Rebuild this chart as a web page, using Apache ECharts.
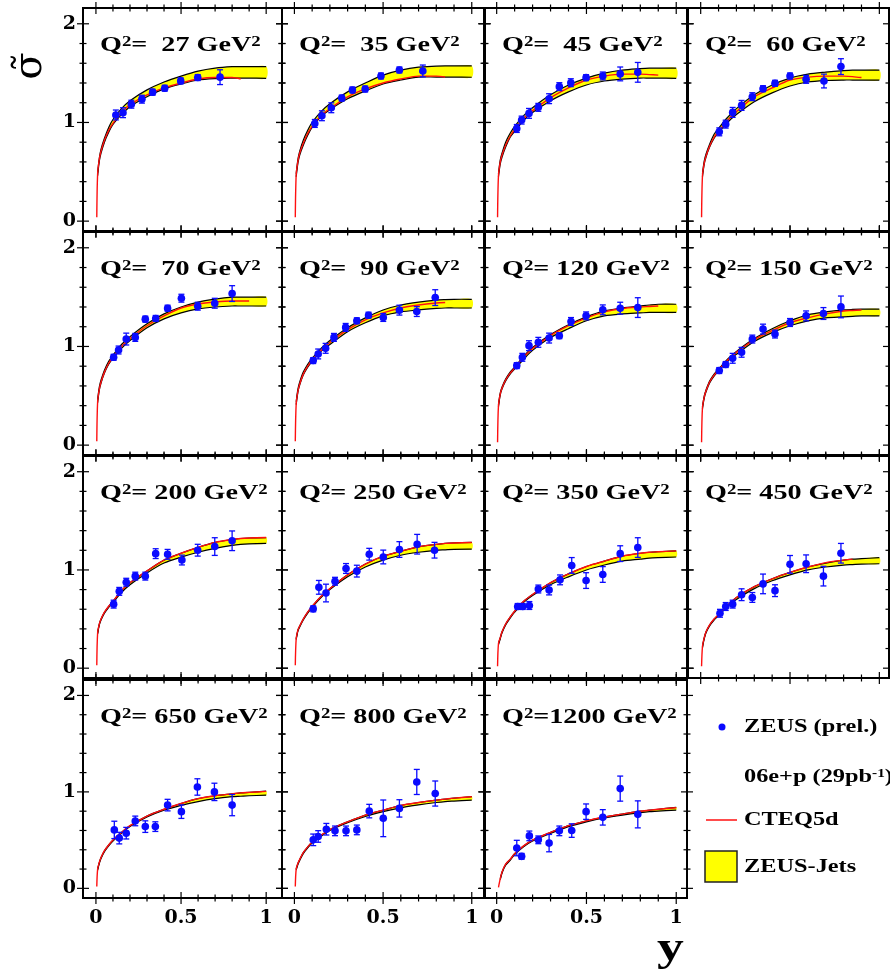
<!DOCTYPE html>
<html>
<head>
<meta charset="utf-8">
<script src="https://cdn.jsdelivr.net/npm/echarts@6/dist/echarts.min.js"></script>
<style>
  html, body { margin: 0; padding: 0; background: #fff; }
  #chart { width: 890px; height: 970px; }
</style>
</head>
<body>
<div id="chart"></div>
<script>
// ---- Values ----------------------------------------------------------
const panelQ2 = [27, 35, 45, 60, 70, 90, 120, 150, 200, 250, 350, 450, 650, 800, 1200];

// y positions at which the model curves are tabulated
const curveY = [0.005, 0.01, 0.02, 0.03, 0.05, 0.075, 0.1, 0.15, 0.2, 0.3, 0.4, 0.5, 0.6, 0.7, 0.8, 0.85, 0.9, 1.0];

// measured points: y, reduced cross section, total error
const pointY = [
  [0.117, 0.159, 0.208, 0.270, 0.333, 0.404, 0.498, 0.598, 0.729],
  [0.115, 0.155, 0.208, 0.267, 0.327, 0.399, 0.488, 0.592, 0.724],
  [0.112, 0.139, 0.180, 0.232, 0.292, 0.349, 0.413, 0.498, 0.591, 0.688, 0.786],
  [0.104, 0.140, 0.179, 0.229, 0.289, 0.349, 0.416, 0.500, 0.590, 0.690, 0.785],
  [0.104, 0.133, 0.178, 0.231, 0.290, 0.351, 0.421, 0.502, 0.598, 0.698, 0.800],
  [0.106, 0.134, 0.176, 0.223, 0.289, 0.352, 0.418, 0.501, 0.592, 0.690, 0.794],
  [0.112, 0.143, 0.180, 0.232, 0.292, 0.349, 0.414, 0.498, 0.591, 0.688, 0.786],
  [0.104, 0.140, 0.179, 0.229, 0.289, 0.349, 0.416, 0.500, 0.590, 0.687, 0.785],
  [0.104, 0.137, 0.178, 0.231, 0.290, 0.351, 0.421, 0.505, 0.598, 0.698, 0.800],
  [0.106, 0.138, 0.178, 0.229, 0.291, 0.352, 0.422, 0.501, 0.592, 0.692, 0.790],
  [0.117, 0.145, 0.182, 0.232, 0.292, 0.353, 0.418, 0.498, 0.591, 0.688, 0.786],
  [0.108, 0.140, 0.179, 0.229, 0.289, 0.349, 0.416, 0.500, 0.590, 0.687, 0.785],
  [0.108, 0.137, 0.178, 0.231, 0.290, 0.349, 0.421, 0.502, 0.596, 0.696, 0.800],
  [0.106, 0.134, 0.180, 0.229, 0.291, 0.352, 0.422, 0.501, 0.592, 0.690, 0.794],
  [0.112, 0.139, 0.182, 0.232, 0.292, 0.349, 0.418, 0.498, 0.591, 0.688, 0.786]
];
const pointSigma = [
  [1.076, 1.099, 1.185, 1.236, 1.307, 1.347, 1.421, 1.455, 1.459],
  [0.990, 1.068, 1.149, 1.247, 1.329, 1.339, 1.471, 1.532, 1.522],
  [0.939, 1.024, 1.092, 1.153, 1.241, 1.363, 1.403, 1.454, 1.471, 1.492, 1.508],
  [0.905, 0.983, 1.102, 1.173, 1.261, 1.342, 1.397, 1.471, 1.437, 1.420, 1.566],
  [0.890, 0.964, 1.075, 1.092, 1.277, 1.284, 1.388, 1.489, 1.408, 1.438, 1.536],
  [0.857, 0.924, 0.981, 1.092, 1.193, 1.260, 1.317, 1.294, 1.368, 1.354, 1.495],
  [0.806, 0.890, 1.008, 1.042, 1.085, 1.109, 1.253, 1.310, 1.371, 1.388, 1.394],
  [0.756, 0.817, 0.880, 0.941, 1.075, 1.176, 1.126, 1.243, 1.310, 1.334, 1.401],
  [0.652, 0.782, 0.875, 0.937, 0.937, 1.166, 1.159, 1.101, 1.201, 1.238, 1.297],
  [0.604, 0.823, 0.765, 0.885, 1.015, 0.988, 1.160, 1.132, 1.208, 1.262, 1.201],
  [0.628, 0.628, 0.638, 0.806, 0.796, 0.899, 1.046, 0.892, 0.954, 1.166, 1.228],
  [0.559, 0.628, 0.652, 0.748, 0.720, 0.858, 0.789, 1.057, 1.063, 0.937, 1.170],
  [0.606, 0.521, 0.572, 0.699, 0.640, 0.640, 0.863, 0.795, 1.051, 1.000, 0.863],
  [0.503, 0.538, 0.613, 0.596, 0.596, 0.606, 0.801, 0.726, 0.829, 1.103, 0.983],
  [0.418, 0.332, 0.544, 0.503, 0.469, 0.596, 0.599, 0.795, 0.736, 1.034, 0.767]
];
const pointErr = [
  [0.05, 0.05, 0.04, 0.04, 0.03, 0.03, 0.03, 0.03, 0.075],
  [0.04, 0.05, 0.05, 0.03, 0.03, 0.03, 0.03, 0.03, 0.06],
  [0.04, 0.04, 0.05, 0.04, 0.05, 0.04, 0.04, 0.03, 0.04, 0.07, 0.10],
  [0.04, 0.04, 0.05, 0.05, 0.04, 0.03, 0.03, 0.03, 0.04, 0.07, 0.08],
  [0.03, 0.04, 0.06, 0.04, 0.03, 0.03, 0.03, 0.04, 0.04, 0.05, 0.08],
  [0.03, 0.05, 0.05, 0.04, 0.04, 0.03, 0.03, 0.04, 0.05, 0.05, 0.08],
  [0.03, 0.04, 0.05, 0.05, 0.05, 0.03, 0.04, 0.04, 0.05, 0.06, 0.10],
  [0.03, 0.03, 0.05, 0.05, 0.04, 0.05, 0.04, 0.04, 0.05, 0.06, 0.11],
  [0.04, 0.04, 0.04, 0.04, 0.04, 0.05, 0.05, 0.05, 0.06, 0.09, 0.10],
  [0.03, 0.07, 0.09, 0.04, 0.05, 0.06, 0.06, 0.07, 0.08, 0.10, 0.08],
  [0.03, 0.03, 0.04, 0.04, 0.05, 0.05, 0.08, 0.08, 0.08, 0.08, 0.10],
  [0.04, 0.04, 0.04, 0.06, 0.05, 0.10, 0.06, 0.09, 0.09, 0.10, 0.10],
  [0.09, 0.06, 0.06, 0.05, 0.06, 0.05, 0.06, 0.07, 0.085, 0.09, 0.11],
  [0.06, 0.06, 0.06, 0.05, 0.05, 0.05, 0.07, 0.19, 0.09, 0.13, 0.13],
  [0.08, 0.03, 0.05, 0.04, 0.09, 0.05, 0.07, 0.08, 0.08, 0.13, 0.14]
];

// CTEQ5d prediction, tabulated at curveY
const cteqSigma = [
  [0.04, 0.48, 0.63, 0.71, 0.82, 0.92, 0.99, 1.10, 1.18, 1.28, 1.35, 1.40, 1.44, 1.455, 1.455, 1.44, null, null],
  [0.04, 0.47, 0.61, 0.69, 0.79, 0.89, 0.96, 1.07, 1.14, 1.26, 1.34, 1.40, 1.44, 1.47, 1.47, 1.46, null, null],
  [0.04, 0.46, 0.60, 0.67, 0.77, 0.86, 0.93, 1.04, 1.12, 1.25, 1.35, 1.43, 1.47, 1.49, 1.49, 1.485, 1.48, null],
  [0.04, 0.46, 0.59, 0.66, 0.76, 0.85, 0.91, 1.02, 1.11, 1.26, 1.35, 1.43, 1.46, 1.47, 1.47, 1.465, 1.455, null],
  [0.04, 0.44, 0.57, 0.64, 0.74, 0.83, 0.89, 1.00, 1.08, 1.21, 1.31, 1.39, 1.43, 1.45, 1.46, 1.46, 1.46, null],
  [0.04, 0.42, 0.55, 0.62, 0.72, 0.80, 0.86, 0.96, 1.04, 1.17, 1.27, 1.34, 1.39, 1.42, 1.44, 1.445, null, null],
  [0.03, 0.40, 0.52, 0.58, 0.66, 0.73, 0.78, 0.89, 0.98, 1.11, 1.21, 1.29, 1.35, 1.385, 1.40, 1.405, 1.41, null],
  [0.03, 0.38, 0.49, 0.55, 0.64, 0.71, 0.76, 0.86, 0.94, 1.07, 1.16, 1.24, 1.29, 1.33, 1.36, 1.365, 1.37, null],
  [0.03, 0.36, 0.45, 0.50, 0.57, 0.63, 0.68, 0.79, 0.87, 0.99, 1.10, 1.17, 1.23, 1.28, 1.31, 1.32, 1.325, 1.33],
  [0.03, 0.30, 0.39, 0.43, 0.50, 0.57, 0.63, 0.73, 0.81, 0.95, 1.06, 1.14, 1.19, 1.235, 1.26, 1.27, 1.275, 1.28],
  [0.02, 0.25, 0.31, 0.37, 0.45, 0.52, 0.58, 0.68, 0.75, 0.87, 0.96, 1.035, 1.09, 1.14, 1.17, 1.18, 1.185, 1.194],
  [0.02, 0.22, 0.31, 0.37, 0.44, 0.50, 0.545, 0.64, 0.72, 0.83, 0.91, 0.975, 1.03, 1.075, 1.10, 1.11, null, null],
  [0.02, 0.20, 0.27, 0.32, 0.39, 0.45, 0.50, 0.58, 0.65, 0.75, 0.82, 0.88, 0.93, 0.96, 0.98, 0.99, 0.995, 1.005],
  [0.02, 0.20, 0.26, 0.30, 0.37, 0.43, 0.48, 0.55, 0.61, 0.69, 0.76, 0.81, 0.86, 0.89, 0.915, 0.925, 0.935, 0.95],
  [null, 0.01, 0.10, 0.17, 0.25, 0.30, 0.36, 0.44, 0.50, 0.58, 0.65, 0.70, 0.74, 0.77, 0.80, 0.81, 0.82, 0.836]
];

// ZEUS-Jets fit uncertainty band, lower and upper edges at curveY
const jetsLow = [
  [null, 0.46, 0.61, 0.69, 0.80, 0.90, 0.98, 1.08, 1.16, 1.26, 1.34, 1.39, 1.43, 1.445, 1.45, 1.45, 1.45, 1.447],
  [null, 0.45, 0.59, 0.67, 0.77, 0.87, 0.95, 1.06, 1.13, 1.24, 1.32, 1.39, 1.43, 1.46, 1.46, 1.46, 1.46, 1.458],
  [null, 0.45, 0.58, 0.65, 0.75, 0.85, 0.91, 1.02, 1.10, 1.22, 1.31, 1.38, 1.42, 1.44, 1.45, 1.45, 1.45, 1.447],
  [null, 0.45, 0.58, 0.65, 0.75, 0.84, 0.90, 1.00, 1.08, 1.21, 1.30, 1.37, 1.41, 1.425, 1.43, 1.43, 1.43, 1.43],
  [null, 0.43, 0.56, 0.63, 0.73, 0.82, 0.88, 0.98, 1.06, 1.19, 1.28, 1.34, 1.38, 1.40, 1.41, 1.41, 1.41, 1.41],
  [null, 0.41, 0.54, 0.61, 0.71, 0.79, 0.85, 0.95, 1.02, 1.15, 1.24, 1.31, 1.35, 1.37, 1.385, 1.39, 1.39, 1.39],
  [null, 0.39, 0.51, 0.57, 0.65, 0.72, 0.77, 0.87, 0.96, 1.09, 1.18, 1.26, 1.31, 1.33, 1.34, 1.345, 1.345, 1.345],
  [null, 0.37, 0.48, 0.54, 0.63, 0.70, 0.75, 0.85, 0.92, 1.05, 1.14, 1.21, 1.26, 1.29, 1.30, 1.305, 1.31, 1.31],
  [null, 0.35, 0.44, 0.49, 0.56, 0.62, 0.67, 0.77, 0.85, 0.97, 1.07, 1.13, 1.18, 1.22, 1.25, 1.26, 1.265, 1.27],
  [null, 0.29, 0.38, 0.42, 0.49, 0.56, 0.62, 0.72, 0.80, 0.93, 1.03, 1.10, 1.15, 1.18, 1.20, 1.205, 1.21, 1.211],
  [null, 0.24, 0.30, 0.36, 0.44, 0.51, 0.57, 0.67, 0.74, 0.85, 0.93, 1.00, 1.05, 1.09, 1.11, 1.12, 1.125, 1.132],
  [null, 0.21, 0.30, 0.36, 0.43, 0.49, 0.535, 0.63, 0.70, 0.81, 0.89, 0.95, 1.00, 1.03, 1.05, 1.055, 1.06, 1.063],
  [null, 0.19, 0.26, 0.31, 0.38, 0.44, 0.49, 0.57, 0.64, 0.74, 0.81, 0.86, 0.90, 0.93, 0.95, 0.955, 0.96, 0.966],
  [null, 0.19, 0.25, 0.29, 0.36, 0.42, 0.47, 0.54, 0.60, 0.68, 0.745, 0.795, 0.835, 0.865, 0.89, 0.90, 0.905, 0.914],
  [null, null, 0.09, 0.16, 0.24, 0.29, 0.35, 0.43, 0.49, 0.57, 0.64, 0.69, 0.73, 0.76, 0.785, 0.795, 0.80, 0.812]
];
const jetsHigh = [
  [null, 0.49, 0.64, 0.73, 0.84, 0.95, 1.03, 1.14, 1.22, 1.33, 1.41, 1.47, 1.52, 1.55, 1.565, 1.566, 1.566, 1.566],
  [null, 0.48, 0.63, 0.71, 0.82, 0.92, 1.00, 1.11, 1.19, 1.31, 1.40, 1.48, 1.53, 1.56, 1.57, 1.573, 1.573, 1.573],
  [null, 0.48, 0.62, 0.69, 0.80, 0.89, 0.96, 1.07, 1.15, 1.28, 1.38, 1.45, 1.50, 1.53, 1.545, 1.55, 1.55, 1.55],
  [null, 0.48, 0.61, 0.68, 0.78, 0.88, 0.94, 1.05, 1.14, 1.28, 1.38, 1.45, 1.49, 1.51, 1.525, 1.53, 1.53, 1.53],
  [null, 0.46, 0.59, 0.66, 0.76, 0.85, 0.91, 1.02, 1.10, 1.23, 1.33, 1.40, 1.45, 1.48, 1.50, 1.50, 1.50, 1.50],
  [null, 0.44, 0.57, 0.64, 0.74, 0.82, 0.88, 0.98, 1.06, 1.19, 1.29, 1.37, 1.42, 1.45, 1.47, 1.475, 1.478, 1.478],
  [null, 0.41, 0.53, 0.59, 0.67, 0.74, 0.79, 0.90, 0.99, 1.12, 1.22, 1.30, 1.36, 1.39, 1.41, 1.42, 1.428, 1.428],
  [null, 0.39, 0.50, 0.56, 0.65, 0.72, 0.77, 0.87, 0.95, 1.08, 1.18, 1.26, 1.32, 1.35, 1.37, 1.375, 1.378, 1.378],
  [null, 0.36, 0.45, 0.50, 0.57, 0.63, 0.68, 0.79, 0.87, 0.99, 1.10, 1.17, 1.23, 1.28, 1.31, 1.32, 1.325, 1.33],
  [null, 0.30, 0.39, 0.43, 0.50, 0.57, 0.63, 0.73, 0.81, 0.95, 1.06, 1.14, 1.19, 1.235, 1.26, 1.27, 1.275, 1.28],
  [null, 0.25, 0.31, 0.37, 0.45, 0.52, 0.58, 0.68, 0.75, 0.87, 0.96, 1.035, 1.09, 1.14, 1.17, 1.18, 1.185, 1.194],
  [null, 0.22, 0.31, 0.37, 0.44, 0.50, 0.545, 0.64, 0.72, 0.83, 0.91, 0.975, 1.03, 1.07, 1.10, 1.11, 1.115, 1.125],
  [null, 0.20, 0.27, 0.32, 0.39, 0.45, 0.50, 0.58, 0.65, 0.75, 0.82, 0.88, 0.93, 0.96, 0.98, 0.99, 0.995, 1.007],
  [null, 0.20, 0.26, 0.30, 0.37, 0.43, 0.48, 0.55, 0.61, 0.69, 0.76, 0.81, 0.86, 0.89, 0.915, 0.925, 0.935, 0.95],
  [null, null, 0.10, 0.17, 0.25, 0.30, 0.36, 0.44, 0.50, 0.58, 0.65, 0.70, 0.74, 0.77, 0.80, 0.81, 0.82, 0.84]
];

// axis ticks and labels
const xTickValues = [0, 0.1, 0.2, 0.3, 0.4, 0.5, 0.6, 0.7, 0.8, 0.9, 1];
const xLabelValues = [0, 0.5, 1];
const yTickValues = [0, 0.2, 0.4, 0.6, 0.8, 1, 1.2, 1.4, 1.6, 1.8, 2];
const yLabelValues = [0, 1, 2];

// ---- Layout ----------------------------------------------------------
const COL_LEFT = [83, 282, 485, 688];
const COL_RIGHT = [282, 484, 687, 889];
const COL_XMIN = [-0.076, -0.070, -0.065, -0.071];
const COL_XMAX = [1.093, 1.069, 1.060, 1.054];
const ROW_TOP = [8, 232, 456, 680];
const ROW_BOTTOM = [231, 455, 678, 898];
const Y_MIN = -0.1, Y_MAX = 2.16;

const BLUE = '#0a0aff';
const SERIF = 'Liberation Serif';
const TEXT_STRETCH = 1.34;
const SMOOTH = 0.3;

// rich-text styles: normal run and raised superscript
function richStyles(size, supSize) {
  return {
    b: { fontFamily: SERIF, fontWeight: 'bold', fontSize: size, fill: '#000' },
    s: { fontFamily: SERIF, fontWeight: 'bold', fontSize: supSize, fill: '#000', verticalAlign: 'top' }
  };
}

// ---- Renderers -------------------------------------------------------
function renderTicks(params, api) {
  const cs = params.coordSys;
  const isY = api.value(0) === 1;
  const v = api.value(1);
  const len = api.value(2) ? 6 : 3.5;
  const children = [];
  const st = { stroke: '#000', lineWidth: 1.2 };
  if (!isY) {
    const px = api.coord([v, 0])[0];
    [cs.y, cs.y + cs.height].forEach(function (yy) {
      children.push({ type: 'line', shape: { x1: px, y1: yy - len, x2: px, y2: yy + len }, style: st });
    });
  } else {
    const py = api.coord([0, v])[1];
    [cs.x, cs.x + cs.width].forEach(function (xx) {
      children.push({ type: 'line', shape: { x1: xx - len, y1: py, x2: xx + len, y2: py }, style: st });
    });
  }
  return { type: 'group', children: children };
}

// whole band drawn once, from all rows [y, low, high] of the series
function renderBand(params, api) {
  if (params.dataIndexInside !== 0) return null;
  const lo = [], hi = [];
  for (let j = 0; j < params.dataInsideLength; j++) {
    const y = api.value(0, j);
    lo.push(api.coord([y, api.value(1, j)]));
    hi.push(api.coord([y, api.value(2, j)]));
  }
  const edge = { stroke: '#000', lineWidth: 1.2, fill: null };
  return {
    type: 'group',
    children: [
      { type: 'polygon', shape: { points: hi.concat(lo.slice().reverse()), smooth: SMOOTH },
        style: { fill: '#ffff00', stroke: null } },
      { type: 'polyline', shape: { points: hi, smooth: SMOOTH }, style: edge },
      { type: 'polyline', shape: { points: lo, smooth: SMOOTH }, style: edge }
    ]
  };
}

function renderPoint(params, api) {
  const x = api.value(0), s = api.value(1), e = api.value(2);
  const c = api.coord([x, s]);
  const top = api.coord([x, s + e])[1];
  const bot = api.coord([x, s - e])[1];
  const st = { stroke: BLUE, lineWidth: 1.3 };
  return {
    type: 'group',
    children: [
      { type: 'line', shape: { x1: c[0], y1: top, x2: c[0], y2: bot }, style: st },
      { type: 'line', shape: { x1: c[0] - 3, y1: top, x2: c[0] + 3, y2: top }, style: st },
      { type: 'line', shape: { x1: c[0] - 3, y1: bot, x2: c[0] + 3, y2: bot }, style: st },
      { type: 'circle', shape: { cx: c[0], cy: c[1], r: 3.8 }, style: { fill: BLUE } }
    ]
  };
}

// ---- Build option ----------------------------------------------------
const grids = [], xAxes = [], yAxes = [], series = [], graphics = [];

const tickData = xTickValues.map(function (v) { return [0, v, xLabelValues.indexOf(v) >= 0 ? 1 : 0]; })
  .concat(yTickValues.map(function (v) { return [1, v, yLabelValues.indexOf(v) >= 0 ? 1 : 0]; }));

panelQ2.forEach(function (q2, i) {
  const row = Math.floor(i / 4), col = i % 4;
  grids.push({
    left: COL_LEFT[col], top: ROW_TOP[row],
    width: COL_RIGHT[col] - COL_LEFT[col], height: ROW_BOTTOM[row] - ROW_TOP[row],
    show: true, borderColor: '#000', borderWidth: 2, backgroundColor: 'transparent',
    outerBoundsMode: 'none'
  });
  const showX = row === 3;
  const showY = col === 0;
  xAxes.push({
    gridIndex: i, type: 'value', min: COL_XMIN[col], max: COL_XMAX[col],
    axisLine: { show: false }, axisTick: { show: false }, splitLine: { show: false },
    axisLabel: {
      show: showX, customValues: xLabelValues, margin: 11,
      fontFamily: 'DejaVu Serif', fontWeight: 'bold', fontSize: 19, color: '#000'
    }
  });
  yAxes.push({
    gridIndex: i, type: 'value', min: Y_MIN, max: Y_MAX,
    axisLine: { show: false }, axisTick: { show: false }, splitLine: { show: false },
    axisLabel: {
      show: showY, customValues: yLabelValues, margin: 7,
      fontFamily: 'DejaVu Serif', fontWeight: 'bold', fontSize: 19, color: '#000'
    }
  });

  // ZEUS-Jets uncertainty band
  const bandRows = [];
  curveY.forEach(function (y, k) {
    if (jetsLow[i][k] != null && jetsHigh[i][k] != null) bandRows.push([y, jetsLow[i][k], jetsHigh[i][k]]);
  });
  series.push({
    type: 'custom', xAxisIndex: i, yAxisIndex: i, clip: false, silent: true,
    renderItem: renderBand, data: bandRows, z: 1
  });
  // CTEQ5d curve
  series.push({
    type: 'line', xAxisIndex: i, yAxisIndex: i,
    data: curveY.map(function (y, k) { return [y, cteqSigma[i][k]]; })
      .filter(function (p) { return p[1] != null; }),
    symbol: 'none', smooth: SMOOTH, silent: true,
    lineStyle: { color: '#ff1010', width: 1.4 }, z: 3
  });
  // frame ticks on all four sides
  series.push({
    type: 'custom', xAxisIndex: i, yAxisIndex: i, clip: false, silent: true,
    renderItem: renderTicks, data: tickData, z: 5
  });
  // data points with error bars
  series.push({
    type: 'custom', xAxisIndex: i, yAxisIndex: i, clip: false, silent: true,
    renderItem: renderPoint, z: 4,
    data: pointY[i].map(function (y, k) { return [y, pointSigma[i][k], pointErr[i][k]]; })
  });

  // panel caption
  graphics.push({
    type: 'text', x: COL_LEFT[col] + 17, y: ROW_TOP[row] + 38, scaleX: TEXT_STRETCH, z: 10,
    style: {
      text: '{b|Q}{s|2}{b|=' + String(q2).padStart(4, ' ') + ' GeV}{s|2}',
      rich: richStyles(21, 14), align: 'left', verticalAlign: 'middle'
    }
  });
});

// axis titles
graphics.push({
  type: 'text', x: 31, y: 66, rotation: Math.PI / 2, z: 10,
  style: { text: '\u03C3\u0303', fontFamily: 'DejaVu Serif', fontSize: 40, fill: '#000', align: 'center', verticalAlign: 'middle' }
});
graphics.push({
  type: 'text', x: 657, y: 950, scaleX: TEXT_STRETCH, z: 10,
  style: { text: 'y', fontFamily: SERIF, fontWeight: 'bold', fontSize: 40, fill: '#000', align: 'left', verticalAlign: 'middle' }
});

// legend block
const LEG_X = 744;
const legendRows = [727, 777, 820, 867];
const legendTexts = ['{b|ZEUS (prel.)}', '{b|06e+p (29pb}{s|-1}{b|)}', '{b|CTEQ5d}', '{b|ZEUS-Jets}'];
graphics.push({ type: 'circle', shape: { cx: 722, cy: legendRows[0], r: 3.5 }, style: { fill: BLUE }, z: 10 });
graphics.push({ type: 'line', shape: { x1: 706, y1: legendRows[2], x2: 737, y2: legendRows[2] }, style: { stroke: '#ff1010', lineWidth: 1.5 }, z: 10 });
graphics.push({ type: 'rect', shape: { x: 705, y: 851, width: 32, height: 31 }, style: { fill: '#ffff00', stroke: '#222', lineWidth: 1.5 }, z: 10 });
legendTexts.forEach(function (t, k) {
  graphics.push({
    type: 'text', x: LEG_X, y: legendRows[k], scaleX: 1.28, z: 10,
    style: { text: t, rich: richStyles(19, 12), align: 'left', verticalAlign: 'middle' }
  });
});

const chart = echarts.init(document.getElementById('chart'), null, { renderer: 'canvas' });
chart.setOption({
  animation: false,
  backgroundColor: '#fff',
  grid: grids,
  xAxis: xAxes,
  yAxis: yAxes,
  series: series,
  graphic: graphics
});
</script>
</body>
</html>
